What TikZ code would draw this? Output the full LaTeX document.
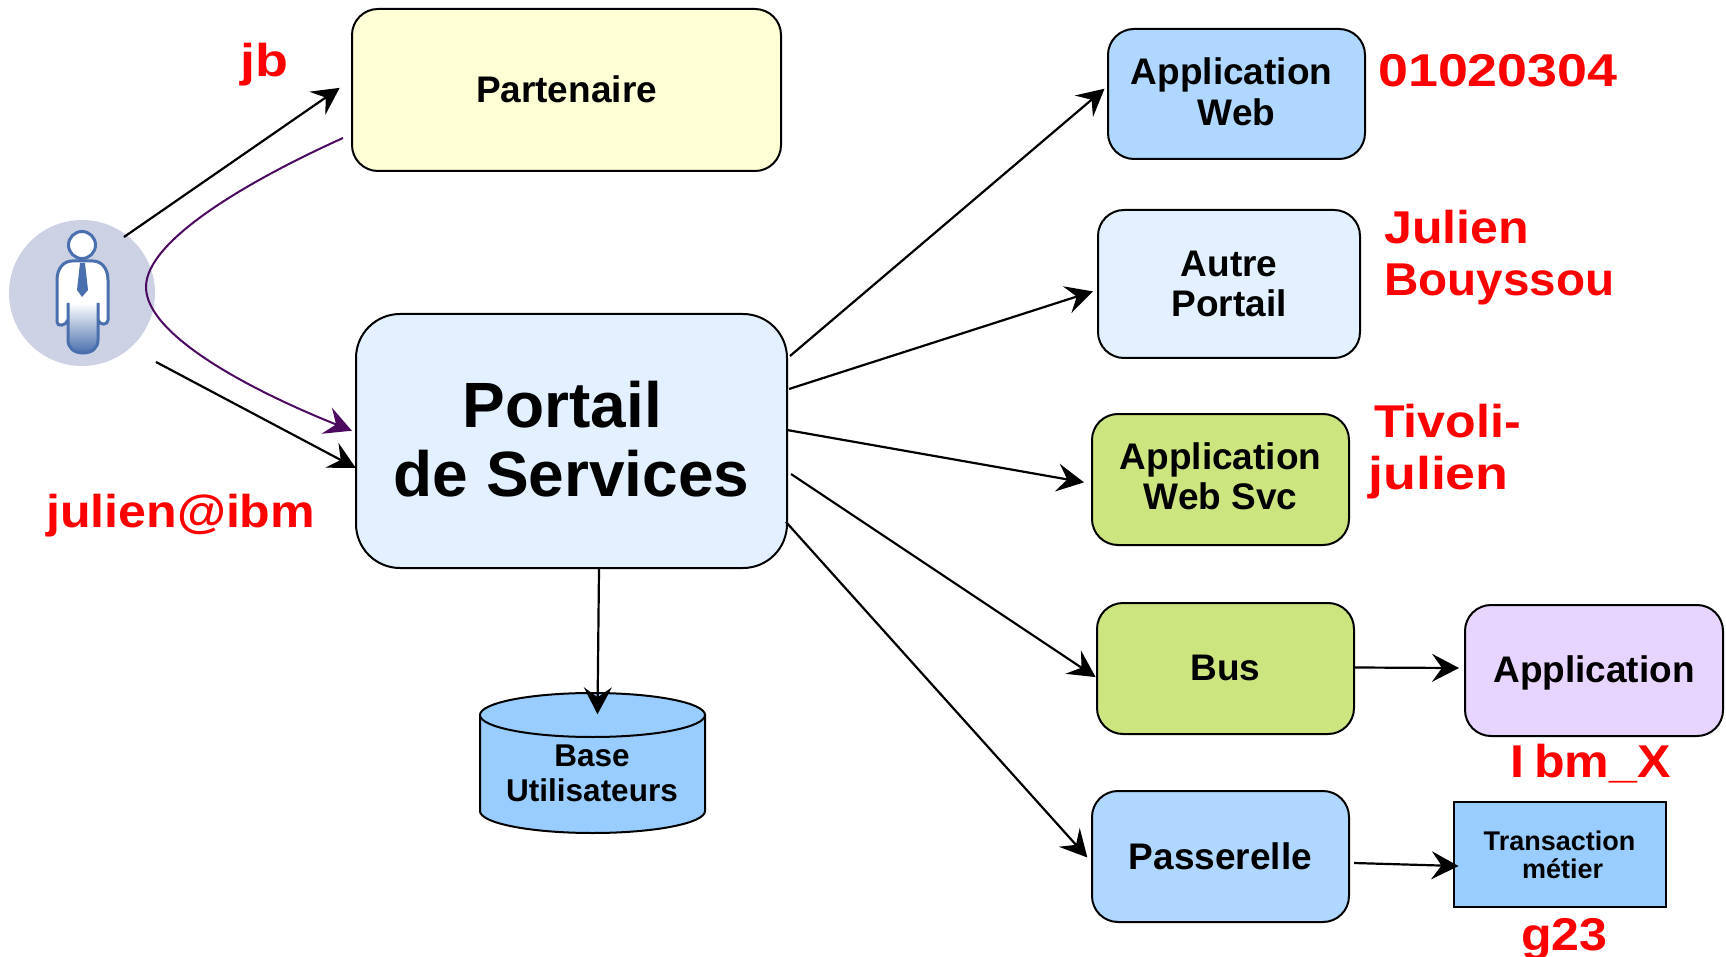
\documentclass[tikz,border=0pt]{standalone}
\usepackage{fontspec}
\setmainfont{Liberation Sans}
\newfontfamily\redfont[FakeStretch=1.17]{Liberation Sans}
\newfontfamily\redfontb[FakeStretch=1.09]{Liberation Sans}
\newfontfamily\redfontc[FakeStretch=1.035]{Liberation Sans}
\usetikzlibrary{arrows.meta,calc}
\definecolor{cyelLt}{HTML}{FFFFD6}
\definecolor{cblueLt}{HTML}{E2F0FF}
\definecolor{cblueMd}{HTML}{B0D7FF}
\definecolor{cblueDk}{HTML}{99CCFF}
\definecolor{cgreen}{HTML}{CDE57F}
\definecolor{cviolet}{HTML}{E8D5FF}
\definecolor{cpurple}{HTML}{4B0A5F}
\definecolor{cdisc}{HTML}{CCD1E4}
\definecolor{cicon}{HTML}{4A6FAE}
\tikzset{
  box/.style={draw=black,line width=2pt,rounded corners=26pt,align=center,inner sep=0pt,
    font=\fontsize{37}{41}\selectfont\bfseries},
  conn/.style={draw=black,line width=2.2pt,shorten >=-2pt,-{Stealth[length=27pt,width=28pt,inset=10pt]}},
  redlabel/.style={text=red,inner sep=0pt,align=left,font=\fontsize{46}{52}\selectfont\redfont\bfseries},
}
\begin{document}
\begin{tikzpicture}[x=1pt,y=-1pt]
\useasboundingbox (0,0) rectangle (1726,957);
% user
\node[circle,fill=cdisc,minimum size=146pt,inner sep=0pt] (user) at (82,293) {};
\fill[white,draw=cicon,line width=3pt] (57,322) -- (57,280) .. controls (57,268) and (64,261) .. (72,261) -- (93,261) .. controls (101,261) and (108,268) .. (108,280) -- (108,320) .. controls (108,325) and (100,326) .. (98,320) -- (68,320) .. controls (66,326) and (57,327) .. (57,322) -- cycle;
\shade[top color=white,bottom color=cicon] (68,303) -- (68,340) .. controls (68,348) and (74,353) .. (83,353) .. controls (92,353) and (98,348) .. (98,340) -- (98,303) -- cycle;
\draw[cicon,line width=3pt] (68,303) -- (68,340) .. controls (68,348) and (74,353) .. (83,353) .. controls (92,353) and (98,348) .. (98,340) -- (98,303);
\fill[cicon] (80,263) -- (85,263) -- (88,290) -- (82,297) -- (77,290) -- cycle;
\draw[cicon,fill=white,line width=3pt] (82,245) circle (13.5);
% boxes
\node[box,fill=cyelLt,minimum width=429pt,minimum height=162pt] (part) at (566.5,90) {\raisebox{0pt}[\height][2pt]{Partenaire}};
\node[box,fill=cblueLt,minimum width=431pt,minimum height=254pt,rounded corners=44pt,font=\fontsize{64}{69.5}\selectfont\bfseries] (portail) at (571.5,441) {Portail\hspace*{18pt}\\\raisebox{0pt}[\height][4pt]{de Services}};
\node[box,fill=cblueMd,minimum width=257pt,minimum height=130pt] (appweb) at (1236.5,94) {Application\hspace*{10pt}\\\raisebox{0pt}[\height][4pt]{Web}};
\node[box,fill=cblueLt,minimum width=262pt,minimum height=148pt,font=\fontsize{37}{40}\selectfont\bfseries] (autre) at (1229,284) {Autre\\Portail};
\node[box,fill=cgreen,minimum width=257pt,minimum height=131pt,font=\fontsize{37}{40}\selectfont\bfseries] (websvc) at (1220.5,479.5) {Application\\\raisebox{0pt}[\height][6.6pt]{Web Svc}};
\node[box,fill=cgreen,minimum width=257pt,minimum height=131pt] (bus) at (1225.5,668.5) {\raisebox{0pt}[\height][2pt]{Bus}};
\node[box,fill=cviolet,minimum width=258pt,minimum height=131pt] (app) at (1594,670.5) {\raisebox{0pt}[31pt][7.8pt]{Application}};
\node[box,fill=cblueMd,minimum width=257pt,minimum height=131pt] (pass) at (1220.5,856.5) {Passerelle};
\node[box,fill=cblueDk,rounded corners=0pt,minimum width=212pt,minimum height=105pt,font=\fontsize{27}{28}\selectfont\bfseries] (trans) at (1559.5,854.5) {Transaction\\\hspace*{6pt}m\'etier};
% database
\draw[line width=2pt,fill=cblueDk] (480,715) -- (480,811) arc[start angle=180,end angle=0,x radius=112.5,y radius=22] -- (705,715) -- cycle;
\draw[line width=2pt,fill=cblueDk] (592.5,715) ellipse[x radius=112.5,y radius=22];
\node[align=center,inner sep=0pt,font=\fontsize{31.5}{35}\selectfont\bfseries] (db) at (592,773) {Base\\Utilisateurs};
% labels
\node[redlabel,anchor=base west] (l1) at (240,77) {jb};
\node[redlabel,anchor=base west,font=\fontsize{46}{52}\selectfont\redfontb\bfseries] (l2) at (46,527) {julien@ibm};
\node[redlabel,anchor=base west] (l3) at (1378,87) {01020304};
\node[redlabel,anchor=west,font=\fontsize{46}{52}\selectfont\redfontc\bfseries] (l4) at (1384,258) {{\redfontb Julien}\\Bouyssou};
\node[redlabel,anchor=west,font=\fontsize{46}{52}\selectfont\redfontb\bfseries] (l5) at (1368,452) {\hspace*{6pt}Tivoli-\\{\redfont julien}};
\node[redlabel,anchor=base west,font=\fontsize{46}{52}\selectfont\redfontb\bfseries] (l6) at (1510,777) {I\kern10pt bm\_X};
\node[redlabel,anchor=base west,font=\fontsize{46}{52}\selectfont\redfontb\bfseries] (l7) at (1521,950) {g23};
% connectors
\draw[conn] ($(user.center)+(42,-56)$) -- ($(part.west)+(-13,-1)$);
\draw[conn,draw=cpurple,line width=2pt] ($(part.west)+(-8,48)$) .. controls ($(user.center)+(168,-113)$) and ($(user.center)+(64,-53)$) .. ($(user.center)+(64,-6)$) .. controls ($(user.center)+(64,42)$) and ($(user.center)+(168,97)$) .. ($(portail.west)+(-5,-11)$);
\draw[conn] ($(user.center)+(74,69)$) -- ($(portail.west)+(-1,26)$);
\draw[conn] ($(portail.south)+(27.5,0)$) -- ($(db.north)+(5.5,-32)$);
\draw[conn] ($(portail.east)+(2,-85)$) -- ($(appweb.west)+(-4,-4)$);
\draw[conn] ($(portail.east)+(1,-52)$) -- ($(autre.west)+(-6,8)$);
\draw[conn] ($(portail.east)+(-1,-11)$) -- ($(websvc.west)+(-9,2.5)$);
\draw[conn] ($(portail.east)+(3,33)$) -- ($(bus.west)+(-2,7.5)$);
\draw[conn] ($(portail.east)+(-2,81)$) -- ($(pass.west)+(-5,-0.5)$);
\draw[conn] ($(bus.east)+(0,-1)$) -- ($(app.west)+(-7,-2.5)$);
\draw[conn] ($(pass.east)+(4,6.5)$) -- ($(trans.west)+(4,11.5)$);
\end{tikzpicture}
\end{document}
